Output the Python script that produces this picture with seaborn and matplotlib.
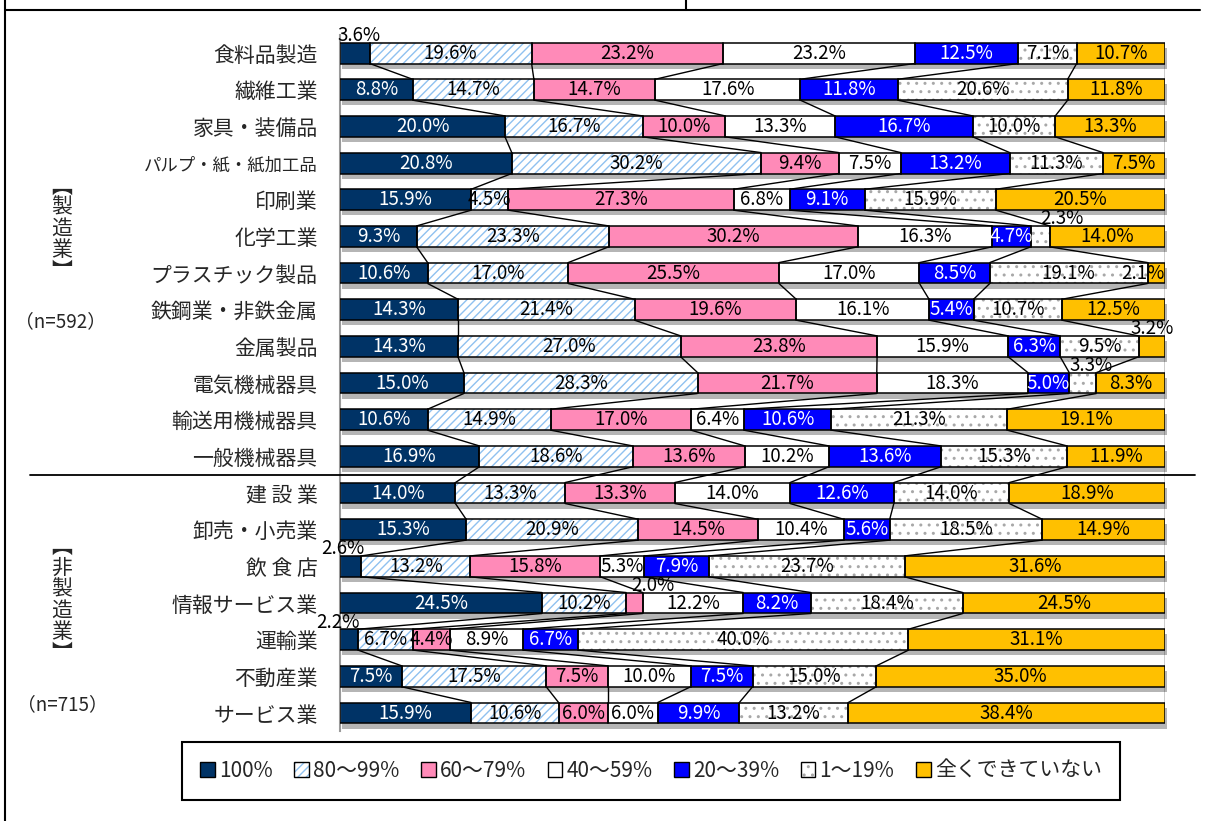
import numpy as np
import pandas as pd
import seaborn as sns
import matplotlib.pyplot as plt
from matplotlib.patches import Patch
from matplotlib.lines import Line2D
from matplotlib.transforms import offset_copy

industries = ['食料品製造', '繊維工業', '家具・装備品', 'パルプ・紙・紙加工品', '印刷業', '化学工業',
              'プラスチック製品', '鉄鋼業・非鉄金属', '金属製品', '電気機械器具', '輸送用機械器具',
              '一般機械器具', '建 設 業', '卸売・小売業', '飲 食 店', '情報サービス業', '運輸業',
              '不動産業', 'サービス業']
series_names = ['100%', '80～99%', '60～79%', '40～59%', '20～39%', '1～19%', '全くできていない']

pct_100 = [3.6, 8.8, 20.0, 20.8, 15.9, 9.3, 10.6, 14.3, 14.3, 15.0, 10.6, 16.9,
           14.0, 15.3, 2.6, 24.5, 2.2, 7.5, 15.9]
pct_80_99 = [19.6, 14.7, 16.7, 30.2, 4.5, 23.3, 17.0, 21.4, 27.0, 28.3, 14.9, 18.6,
             13.3, 20.9, 13.2, 10.2, 6.7, 17.5, 10.6]
pct_60_79 = [23.2, 14.7, 10.0, 9.4, 27.3, 30.2, 25.5, 19.6, 23.8, 21.7, 17.0, 13.6,
             13.3, 14.5, 15.8, 2.0, 4.4, 7.5, 6.0]
pct_40_59 = [23.2, 17.6, 13.3, 7.5, 6.8, 16.3, 17.0, 16.1, 15.9, 18.3, 6.4, 10.2,
             14.0, 10.4, 5.3, 12.2, 8.9, 10.0, 6.0]
pct_20_39 = [12.5, 11.8, 16.7, 13.2, 9.1, 4.7, 8.5, 5.4, 6.3, 5.0, 10.6, 13.6,
             12.6, 5.6, 7.9, 8.2, 6.7, 7.5, 9.9]
pct_1_19 = [7.1, 20.6, 10.0, 11.3, 15.9, 2.3, 19.1, 10.7, 9.5, 3.3, 21.3, 15.3,
            14.0, 18.5, 23.7, 18.4, 40.0, 15.0, 13.2]
pct_none = [10.7, 11.8, 13.3, 7.5, 20.5, 14.0, 2.1, 12.5, 3.2, 8.3, 19.1, 11.9,
            18.9, 14.9, 31.6, 24.5, 31.1, 35.0, 38.4]

series_vals = [pct_100, pct_80_99, pct_60_79, pct_40_59, pct_20_39, pct_1_19, pct_none]

# styles
face_colors = ['#003366', 'white', '#FF8AB8', 'white', '#0000FF', 'white', '#FFC000']
hatch_colors = [None, '#8FC1F0', None, None, None, '#a8a8a8', None]
hatches = [None, '////', None, None, None, '..', None]
text_colors = ['white', 'black', 'black', 'black', 'white', 'black', 'black']
# small values drawn above their bar: (row, series) -> horizontal nudge in points
above_nudge = {(0, 0): 3, (5, 5): 16, (8, 6): 0, (9, 5): 6, (14, 0): -6,
               (15, 2): 13, (16, 0): -8}

sns.set_theme(style='white')
plt.rcParams['font.family'] = ['Noto Sans CJK JP', 'DejaVu Sans']
plt.rcParams['hatch.linewidth'] = 1.0

fig = plt.figure(figsize=(12.1, 8.21), dpi=100)
ax = fig.add_axes([340 / 1210, 0.1092, 825 / 1210, 0.8485])

n = len(industries)
ypos = np.arange(n)
bar_h = 0.57

vals = np.array(series_vals).T          # rows x series
norm = vals / vals.sum(axis=1, keepdims=True) * 100
ends = np.cumsum(norm, axis=1)
starts = ends - norm

# drop shadow
sns.barplot(x=[100.0] * n, y=ypos + 0.14, orient='y', native_scale=True,
            color='#b5b5b5', saturation=1, width=bar_h, linewidth=0,
            errorbar=None, ax=ax, left=0.25, clip_on=False, zorder=1)

# filled segments
for k in range(len(series_vals)):
    sns.barplot(x=norm[:, k], y=ypos, orient='y', native_scale=True,
                color=face_colors[k], saturation=1, width=bar_h, linewidth=0,
                edgecolor=hatch_colors[k] if hatch_colors[k] else 'none',
                hatch=hatches[k], errorbar=None, ax=ax, left=starts[:, k], zorder=2)
    # black outlines
    sns.barplot(x=norm[:, k], y=ypos, orient='y', native_scale=True,
                color='black', fill=False, width=bar_h, linewidth=1.1,
                errorbar=None, ax=ax, left=starts[:, k], zorder=3)

# series lines between bars
for k in range(len(series_vals)):
    for i in range(n - 1):
        ax.plot([ends[i, k], ends[i + 1, k]], [i + bar_h / 2, i + 1 - bar_h / 2],
                color='black', lw=1.0, zorder=2.5, solid_capstyle='butt')

# value labels
lab_size = 13.5
for i in range(n):
    for k in range(len(series_vals)):
        v = vals[i, k]
        txt = f'{v:.1f}%'
        cx = (starts[i, k] + ends[i, k]) / 2
        if (i, k) in above_nudge:
            tr = offset_copy(ax.transData, fig=fig, x=above_nudge[(i, k)], y=0, units='points')
            ax.text(cx, i - bar_h / 2 - 0.04, txt, ha='center', va='baseline',
                    fontsize=lab_size, color='black', zorder=5, transform=tr)
        elif v < 4:
            ax.text(ends[i, k], i, txt, ha='right', va='center',
                    fontsize=lab_size, color='black', zorder=5)
        else:
            ax.text(cx, i, txt, ha='center', va='center', fontsize=lab_size,
                    color=text_colors[k], zorder=5)

ax.set_xlim(0, 100)
ax.set_ylim(n - 0.5, -0.5)
ax.set_xticks([])
ax.set_yticks(ypos, industries)
ax.tick_params(axis='y', length=0, pad=16, labelsize=15)
ax.get_yticklabels()[3].set_fontsize(12.5)
ax.set_xlabel('')
ax.set_ylabel('')
for side in ['top', 'right', 'bottom']:
    ax.spines[side].set_visible(False)
ax.spines['left'].set_color('#9a9a9a')
ax.spines['left'].set_linewidth(1.5)
ax.set_facecolor('none')

# separator between manufacturing / non-manufacturing
ax.axhline(11.5, xmin=(30 - 340) / 825, xmax=(1195 - 340) / 825, color='black',
           lw=1.3, clip_on=False, zorder=4)

# group annotations
fig.text(62 / 1210, 1 - 229 / 821, '︻\n製\n造\n業\n︼', ha='center', va='center',
         fontsize=15, linespacing=0.95)
fig.text(60 / 1210, 1 - 322 / 821, '（n=592）', ha='center', va='center', fontsize=13.5)
fig.text(62 / 1210, 1 - 600 / 821, '︻\n非\n製\n造\n業\n︼', ha='center', va='center',
         fontsize=15, linespacing=0.95)
fig.text(62 / 1210, 1 - 705 / 821, '（n=715）', ha='center', va='center', fontsize=13.5)

# frame lines of the page
fig.add_artist(Line2D([5 / 1210, 5 / 1210], [0, 1], color='black', lw=1.5))
fig.add_artist(Line2D([5 / 1210, 1200 / 1210], [1 - 10 / 821, 1 - 10 / 821], color='black', lw=1.5))
fig.add_artist(Line2D([686 / 1210, 686 / 1210], [1 - 10 / 821, 1], color='black', lw=1.5))

# legend
handles = []
for k in range(len(series_vals)):
    fill = Patch(facecolor=face_colors[k],
                 edgecolor=hatch_colors[k] if hatch_colors[k] else 'none',
                 hatch=hatches[k], linewidth=0)
    edge = Patch(facecolor='none', edgecolor='black', linewidth=1.0)
    handles.append((fill, edge))
leg = fig.legend(handles, series_names, ncol=7, loc='center',
                 bbox_to_anchor=(172 / 1210, 21 / 821, 958 / 1210, 58 / 821),
                 mode='expand', fontsize=15, handlelength=0.7, handleheight=0.7,
                 handletextpad=0.2, borderpad=0.85, fancybox=False, framealpha=1,
                 edgecolor='black')
leg.get_frame().set_linewidth(1.5)

fig.savefig('out.png', dpi=100)
